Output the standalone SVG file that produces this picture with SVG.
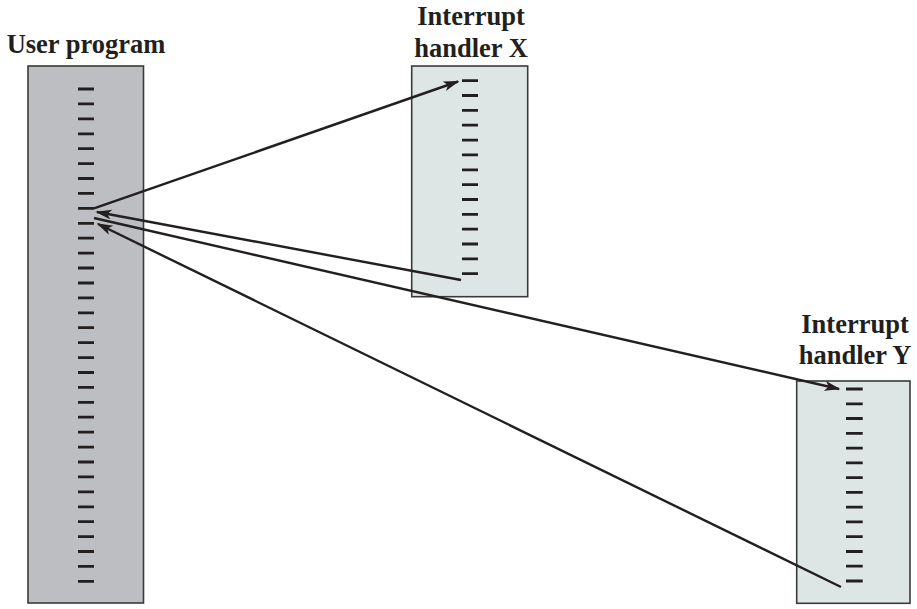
<svg xmlns="http://www.w3.org/2000/svg" width="917" height="609" viewBox="0 0 917 609">
<style>
.lbl{font-family:"Liberation Serif","Times New Roman",serif;font-weight:bold;font-size:26.5px;fill:#231f20;text-anchor:middle}
.box{stroke:#3a3a3a;stroke-width:1.6}
.user{fill:#bdbec1}
.hand{fill:#dde6e4}
.dash{stroke:#231f20;stroke-width:2.8}
.conn{stroke:#231f20;stroke-width:2.4;fill:none;marker-end:url(#ah)}
</style>
<defs>
<marker id="ah" markerUnits="userSpaceOnUse" markerWidth="18" markerHeight="12" refX="14.5" refY="5" orient="auto">
<path d="M0,0 L16,5 L0,10 L4,5 z" fill="#231f20"/>
</marker>
</defs>
<g id="user-program">
<text class="lbl" x="86" y="53">User program</text>
<rect class="box user" x="28" y="66" width="115.5" height="537"/>
<g class="dash">
<path d="M78,89H94M78,103.9H94M78,118.8H94M78,133.8H94M78,148.7H94M78,163.6H94M78,178.5H94M78,193.4H94M78,208.4H94M78,223.3H94M78,238.2H94M78,253.1H94M78,268H94M78,283H94M78,297.9H94M78,312.8H94M78,327.7H94M78,342.6H94M78,357.6H94M78,372.5H94M78,387.4H94M78,402.3H94M78,417.2H94M78,432.2H94M78,447.1H94M78,462H94M78,476.9H94M78,491.8H94M78,506.8H94M78,521.7H94M78,536.6H94M78,551.5H94M78,566.4H94M78,581.4H94"/>
</g>
</g>
<g id="handler-x">
<text class="lbl" x="471" y="25">Interrupt</text>
<text class="lbl" x="471" y="57">handler X</text>
<rect class="box hand" x="411.7" y="66" width="116" height="230.7"/>
<g class="dash">
<path d="M462,80.7H478M462,95.5H478M462,110.4H478M462,125.2H478M462,140.1H478M462,154.9H478M462,169.8H478M462,184.6H478M462,199.5H478M462,214.3H478M462,229.2H478M462,244H478M462,258.9H478M462,273.7H478"/>
</g>
</g>
<g id="handler-y">
<text class="lbl" x="855" y="333">Interrupt</text>
<text class="lbl" x="855" y="364">handler Y</text>
<rect class="box hand" x="796.7" y="381" width="113.3" height="222.3"/>
<g class="dash">
<path d="M846,389H862.7M846,403.8H862.7M846,418.5H862.7M846,433.3H862.7M846,448.1H862.7M846,462.8H862.7M846,477.6H862.7M846,492.4H862.7M846,507.2H862.7M846,521.9H862.7M846,536.7H862.7M846,551.5H862.7M846,566.2H862.7M846,581H862.7"/>
</g>
</g>
<g id="connectors">
<line class="conn" x1="94" y1="208.4" x2="458" y2="81.5"/>
<line class="conn" x1="461" y1="280" x2="97" y2="212"/>
<line class="conn" x1="94" y1="218" x2="839" y2="389"/>
<line class="conn" x1="841" y1="587" x2="98" y2="224"/>
</g>
</svg>
